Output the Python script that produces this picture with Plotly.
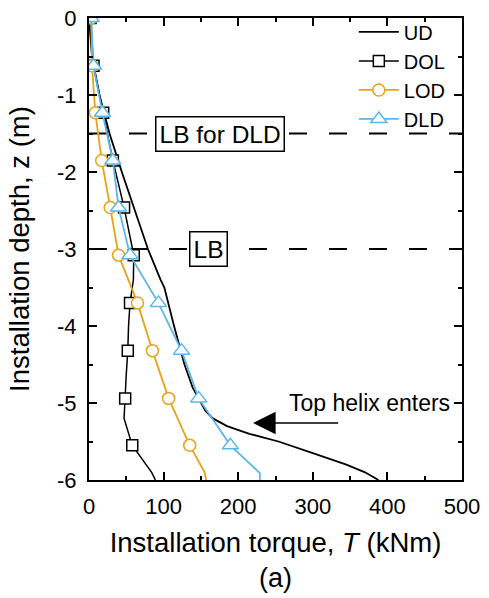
import plotly.graph_objects as go

# ---------------- data ----------------
ud_depth = [0, -0.5, -1.0, -1.5, -2.0, -2.5, -3.0, -3.4, -3.5, -4.0, -4.5, -4.8,
            -5.0, -5.1, -5.2, -5.3, -5.4, -5.5, -5.65, -5.8, -5.9, -6.0]
ud_torque = [0, 4, 14, 27.5, 44, 61, 79, 96, 101, 114, 128, 139,
             150, 156, 166, 185, 215, 254, 300, 345, 370, 388]

dol_depth = [0, -0.62, -1.23, -1.85, -2.46, -3.08, -3.4, -3.70, -4.0, -4.32,
             -4.62, -4.94, -5.2, -5.55, -5.78, -5.9, -6.0]
dol_torque = [2, 6, 19, 32, 47, 60, 59.5, 55, 53, 52,
              50, 48.5, 47, 58, 75, 84, 89]

lod_depth = [0, -0.62, -1.23, -1.85, -2.46, -3.08, -3.70, -4.32, -4.94, -5.55, -5.9, -6.0]
lod_torque = [3, 4, 8.5, 17, 28.4, 39.6, 65, 85, 106.7, 135, 155, 157]

dld_depth = [0, -0.62, -1.23, -1.85, -2.46, -3.08, -3.70, -4.32, -4.94, -5.55, -5.91, -6.0]
dld_torque = [3, 6, 18, 32, 39.6, 55, 93, 124, 147, 189.5, 229, 229]

marker_depth = [0, -0.62, -1.23, -1.85, -2.46, -3.08, -3.70, -4.32, -4.94, -5.55]
dol_marker_torque = [2, 6, 19, 32, 47, 60, 55, 52, 48.5, 58]
lod_marker_torque = [3, 4, 8.5, 17, 28.4, 39.6, 65, 85, 106.7, 135]
dld_marker_torque = [3, 6, 18, 32, 39.6, 55, 93, 124, 147, 189.5]

series_names = ["UD", "DOL", "LOD", "DLD"]
x_tickvals = [0, 100, 200, 300, 400, 500]
x_ticktext = ["0", "100", "200", "300", "400", "500"]
y_tickvals = [0, -1, -2, -3, -4, -5, -6]
y_ticktext = ["0", "-1", "-2", "-3", "-4", "-5", "-6"]

lb_dld_depth = -1.5
lb_depth = -3.0

# ---------------- styling ----------------
FONT = "Arial, Liberation Sans, sans-serif"
ORANGE = "#E8A317"
BLUE = "#5DB6EA"
BLACK = "black"

fig = go.Figure()

# legend-only entries
fig.add_trace(go.Scatter(x=[None], y=[None], mode="lines", name=series_names[0],
                         line=dict(color=BLACK, width=1.8)))
fig.add_trace(go.Scatter(x=[None], y=[None], mode="lines+markers", name=series_names[1],
                         line=dict(color=BLACK, width=1.5),
                         marker=dict(symbol="square", size=11, color="white",
                                     line=dict(color=BLACK, width=1.5))))
fig.add_trace(go.Scatter(x=[None], y=[None], mode="lines+markers", name=series_names[2],
                         line=dict(color=ORANGE, width=1.8),
                         marker=dict(symbol="circle", size=12, color="white",
                                     line=dict(color=ORANGE, width=1.5))))
fig.add_trace(go.Scatter(x=[None], y=[None], mode="lines+markers", name=series_names[3],
                         line=dict(color=BLUE, width=1.8),
                         marker=dict(symbol="triangle-up", size=14, color="white",
                                     line=dict(color=BLUE, width=1.5))))

# curves
fig.add_trace(go.Scatter(x=ud_torque, y=ud_depth, mode="lines", showlegend=False,
                         line=dict(color=BLACK, width=1.8)))
fig.add_trace(go.Scatter(x=dol_torque, y=dol_depth, mode="lines", showlegend=False,
                         line=dict(color=BLACK, width=1.5)))
fig.add_trace(go.Scatter(x=dol_marker_torque, y=marker_depth, mode="markers", showlegend=False,
                         marker=dict(symbol="square", size=11, color="white",
                                     line=dict(color=BLACK, width=1.5))))
fig.add_trace(go.Scatter(x=lod_torque, y=lod_depth, mode="lines", showlegend=False,
                         line=dict(color=ORANGE, width=1.8)))
fig.add_trace(go.Scatter(x=lod_marker_torque, y=marker_depth, mode="markers", showlegend=False,
                         marker=dict(symbol="circle", size=12, color="white",
                                     line=dict(color=ORANGE, width=1.5))))
fig.add_trace(go.Scatter(x=dld_torque, y=dld_depth, mode="lines", showlegend=False,
                         line=dict(color=BLUE, width=1.8)))
fig.add_trace(go.Scatter(x=dld_marker_torque, y=marker_depth, mode="markers", showlegend=False,
                         marker=dict(symbol="triangle-up", size=14, color="white",
                                     line=dict(color=BLUE, width=1.5))))

# dashed limit lines
for d in (lb_dld_depth, lb_depth):
    fig.add_shape(type="line", xref="x", yref="y", x0=0, x1=500, y0=d, y1=d,
                  line=dict(color=BLACK, width=2, dash="18px,22px"), layer="below")

fig.add_annotation(x=176, y=lb_dld_depth, xref="x", yref="y", text="LB for DLD",
                   showarrow=False, font=dict(family=FONT, size=24.5, color=BLACK),
                   bgcolor="white", bordercolor=BLACK, borderwidth=1.5, borderpad=3)
fig.add_annotation(x=160, y=lb_depth, xref="x", yref="y", text="LB",
                   showarrow=False, font=dict(family=FONT, size=24.5, color=BLACK),
                   bgcolor="white", bordercolor=BLACK, borderwidth=1.5, borderpad=3)
fig.add_annotation(x=376, y=-5.0, xref="x", yref="y", text="Top helix enters",
                   showarrow=False, font=dict(family=FONT, size=23, color=BLACK))
fig.add_annotation(x=220, y=-5.26, ax=336, ay=-5.26, xref="x", yref="y",
                   axref="x", ayref="y", text="", showarrow=True,
                   arrowhead=2, arrowsize=3, arrowwidth=1.5, arrowcolor=BLACK)
fig.add_annotation(x=0.5, y=-0.2114, xref="paper", yref="paper", text="(a)",
                   xanchor="center", yanchor="middle",
                   showarrow=False, font=dict(family=FONT, size=27, color=BLACK))

axis_common = dict(showline=True, linewidth=2, linecolor=BLACK, mirror="ticks",
                   ticks="inside", ticklen=8, tickwidth=2, tickcolor=BLACK,
                   showgrid=False, zeroline=False, automargin=False,
                   tickfont=dict(family=FONT, size=22, color=BLACK))

fig.update_xaxes(range=[0, 500], tickvals=x_tickvals, ticktext=x_ticktext,
                 minor=dict(ticks="inside", ticklen=4, tickwidth=2, dtick=50, tick0=0,
                            tickcolor=BLACK),
                 title=dict(text="Installation torque, <i>T</i> (kNm)",
                            font=dict(family=FONT, size=27.5, color=BLACK), standoff=14),
                 ticklabelstandoff=6, **axis_common)
fig.update_yaxes(range=[-6, 0], tickvals=y_tickvals, ticktext=y_ticktext,
                 minor=dict(ticks="inside", ticklen=4, tickwidth=2, dtick=0.5, tick0=0,
                            tickcolor=BLACK),
                 title=dict(text="Installation depth, z (m)",
                            font=dict(family=FONT, size=27.5, color=BLACK), standoff=19),
                 ticklabelstandoff=6, **axis_common)

fig.update_layout(
    width=489, height=598,
    margin=dict(l=89, r=27, t=16, b=118),
    paper_bgcolor="white", plot_bgcolor="white",
    font=dict(family=FONT, color=BLACK),
    legend=dict(x=0.71, y=1.012, xanchor="left", yanchor="top",
                bgcolor="rgba(0,0,0,0)", borderwidth=0,
                font=dict(family=FONT, size=20, color=BLACK),
                tracegroupgap=0, itemwidth=40),
)

fig.write_html("out.html")
